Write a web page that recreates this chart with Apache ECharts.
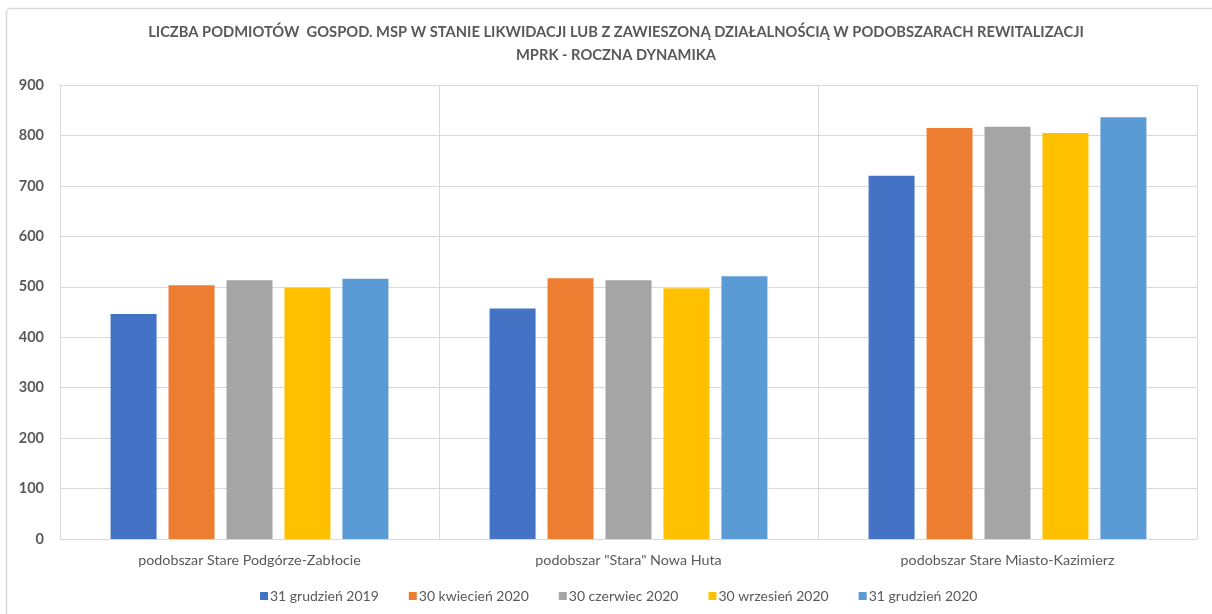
<!DOCTYPE html>
<html>
<head>
<meta charset="utf-8">
<script src="https://cdn.jsdelivr.net/npm/echarts@6/dist/echarts.min.js"></script>
<style>
  html, body { margin: 0; padding: 0; background: #fff; }
  #chart { width: 1212px; height: 614px; }
</style>
</head>
<body>
<div id="chart"></div>
<script>
// Subareas (categories) and the five reporting dates (series)
const categories = [
  'podobszar Stare Podgórze-Zabłocie',
  'podobszar "Stara" Nowa Huta',
  'podobszar Stare Miasto-Kazimierz'
];
const seriesNames = [
  '31 grudzień 2019',
  '30 kwiecień 2020',
  '30 czerwiec 2020',
  '30 wrzesień 2020',
  '31 grudzień 2020'
];
const dec2019 = [446, 457, 720];
const apr2020 = [503, 517, 815];
const jun2020 = [513, 513, 817];
const sep2020 = [498, 497, 805];
const dec2020 = [516, 521, 836];
const seriesValues = [dec2019, apr2020, jun2020, sep2020, dec2020];
const colors = ['#4472C4', '#ED7D31', '#A5A5A5', '#FFC000', '#5B9BD5'];

const titleLines = [
  'LICZBA PODMIOTÓW  GOSPOD. MSP W STANIE LIKWIDACJI LUB Z ZAWIESZONĄ DZIAŁALNOŚCIĄ W PODOBSZARACH REWITALIZACJI',
  'MPRK - ROCZNA DYNAMIKA'
];

const font = 'Lato, "Open Sans", sans-serif';
const chart = echarts.init(document.getElementById('chart'));

chart.setOption({
  backgroundColor: '#fff',
  animation: false,
  color: colors,
  graphic: [{
    type: 'rect',
    shape: { x: 6.5, y: 8.5, width: 1300, height: 700, r: 4 },
    style: { fill: 'none', stroke: '#d9d9d9', lineWidth: 1.5 },
    silent: true,
    z: -1
  }],
  title: {
    text: titleLines.join('\n'),
    left: 611,
    textAlign: 'center',
    top: 16,
    textStyle: {
      fontFamily: font,
      fontSize: 14.7,
      fontWeight: 'bold',
      color: '#595959',
      lineHeight: 23
    }
  },
  legend: {
    data: seriesNames,
    left: 255,
    top: 584,
    icon: 'rect',
    itemWidth: 8,
    itemHeight: 8,
    itemGap: 30,
    textStyle: { fontFamily: font, fontSize: 14, color: '#595959', padding: [0, 0, 0, -3] }
  },
  grid: { left: 60, right: 15, top: 85, bottom: 75, containLabel: false },
  xAxis: {
    type: 'category',
    data: categories,
    axisLine: { show: true, lineStyle: { color: '#d9d9d9', width: 1 } },
    axisTick: { show: false },
    splitLine: { show: true, lineStyle: { color: '#d9d9d9', width: 1 } },
    axisLabel: { fontFamily: font, fontSize: 14.3, color: '#595959', margin: 14 }
  },
  yAxis: {
    type: 'value',
    min: 0,
    max: 900,
    interval: 100,
    axisLine: { show: true, lineStyle: { color: '#d9d9d9' } },
    axisTick: { show: false },
    splitLine: { lineStyle: { color: '#d9d9d9', width: 1 } },
    axisLabel: { fontFamily: font, fontSize: 14.5, fontWeight: 'bold', color: '#595959', margin: 16 }
  },
  series: seriesNames.map((name, i) => ({
    name: name,
    type: 'bar',
    data: seriesValues[i],
    barWidth: 46,
    barGap: '26%',
    itemStyle: { color: colors[i] }
  }))
});
</script>
</body>
</html>
